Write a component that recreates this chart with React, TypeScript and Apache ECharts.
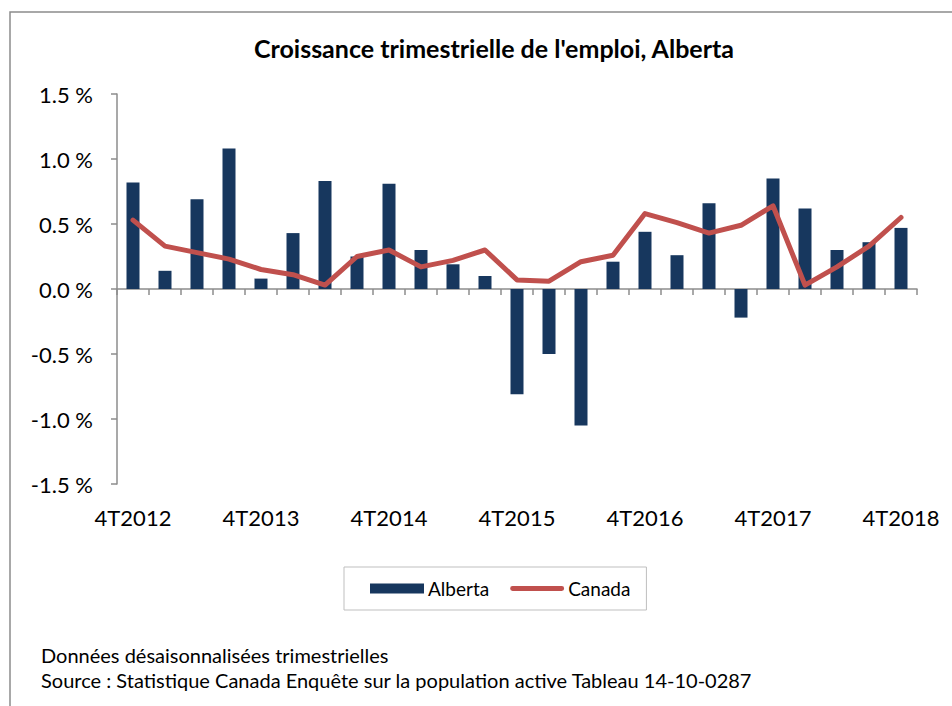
import React, { useEffect, useRef } from "react";
import * as echarts from "echarts";

const categories = [
  "4T2012", "1T2013", "2T2013", "3T2013",
  "4T2013", "1T2014", "2T2014", "3T2014",
  "4T2014", "1T2015", "2T2015", "3T2015",
  "4T2015", "1T2016", "2T2016", "3T2016",
  "4T2016", "1T2017", "2T2017", "3T2017",
  "4T2017", "1T2018", "2T2018", "3T2018",
  "4T2018",
];

const albertaValues = [
  0.82, 0.14, 0.69, 1.08,
  0.08, 0.43, 0.83, 0.25,
  0.81, 0.30, 0.19, 0.10,
  -0.81, -0.50, -1.05, 0.21,
  0.44, 0.26, 0.66, -0.22,
  0.85, 0.62, 0.30, 0.36,
  0.47,
];

const canadaValues = [
  0.53, 0.33, 0.28, 0.23,
  0.15, 0.11, 0.03, 0.25,
  0.30, 0.17, 0.22, 0.30,
  0.07, 0.06, 0.21, 0.26,
  0.58, 0.51, 0.43, 0.49,
  0.64, 0.03, 0.17, 0.33,
  0.55,
];

const titleText = "Croissance trimestrielle de l'emploi, Alberta";
const noteLines = [
  "Données désaisonnalisées trimestrielles",
  "Source : Statistique Canada Enquête sur la population active Tableau 14-10-0287",
];

const FONT = "Lato";
const AXIS_GRAY = "#8c8c8c";
const LINE_ICON = "path://M2.5,0 H53.5 A2.5,2.5 0 0 1 53.5,5 H2.5 A2.5,2.5 0 0 1 2.5,0 Z";

export default function App() {
  const ref = useRef<HTMLDivElement>(null);

  useEffect(() => {
    if (!ref.current) return;
    const chart = echarts.init(ref.current, undefined, { renderer: "svg" });
    chart.setOption({
      animation: false,
      backgroundColor: "#ffffff",
      title: {
        text: titleText,
        left: 489,
        textAlign: "center",
        top: 30,
        textStyle: { fontFamily: FONT, fontWeight: "bold", fontSize: 25, color: "#000" },
      },
      grid: { left: 117, right: 35, top: 94, bottom: 222, containLabel: false },
      legend: {
        left: 344,
        top: 567,
        padding: [12, 16, 12, 26],
        borderColor: "#bfbfbf",
        borderWidth: 1,
        itemWidth: 54,
        itemHeight: 10,
        itemGap: 21,
        itemStyle: { borderWidth: 0 },
        textStyle: { fontFamily: FONT, fontSize: 19, color: "#000", padding: [0, 0, 0, -1] },
        data: [
          { name: "Alberta", icon: "rect" },
          { name: "Canada", icon: LINE_ICON },
        ],
      },
      xAxis: [
        {
          type: "category",
          data: categories,
          axisLine: { onZero: true, lineStyle: { color: AXIS_GRAY, width: 1.5 } },
          axisTick: { show: true, interval: 0, length: 6, lineStyle: { color: AXIS_GRAY, width: 1.5 } },
          axisLabel: { show: false },
          splitLine: { show: false },
        },
        {
          type: "category",
          data: categories,
          position: "bottom",
          axisLine: { show: false, onZero: false },
          axisTick: { show: false },
          axisLabel: {
            show: true,
            interval: 3,
            margin: 22,
            fontFamily: FONT,
            fontSize: 22,
            color: "#000",
          },
          splitLine: { show: false },
        },
      ],
      yAxis: {
        type: "value",
        min: -1.5,
        max: 1.5,
        interval: 0.5,
        axisLine: { show: true, lineStyle: { color: AXIS_GRAY, width: 1.5 } },
        axisTick: { show: true, length: 6, lineStyle: { color: AXIS_GRAY, width: 1.5 } },
        splitLine: { show: false },
        axisLabel: {
          margin: 24,
          fontFamily: FONT,
          fontSize: 22,
          color: "#000",
          formatter: (v: number) => v.toFixed(1) + " %",
        },
      },
      series: [
        {
          name: "Alberta",
          type: "bar",
          xAxisIndex: 0,
          data: albertaValues,
          barWidth: 13,
          itemStyle: { color: "#17375E" },
        },
        {
          name: "Canada",
          type: "line",
          xAxisIndex: 0,
          data: canadaValues,
          symbol: "none",
          lineStyle: { color: "#C0504D", width: 5, cap: "round", join: "round" },
          itemStyle: { color: "#C0504D" },
        },
      ],
      graphic: [
        {
          type: "rect",
          shape: { x: 10, y: 12, width: 960, height: 720 },
          style: { fill: "none", stroke: "#8c8c8c", lineWidth: 1.5 },
          silent: true,
        },
        {
          type: "text",
          left: 41,
          top: 645,
          style: { text: noteLines[0], fontFamily: FONT, fontSize: 20, fill: "#000" },
        },
        {
          type: "text",
          left: 41,
          top: 670,
          style: { text: noteLines[1], fontFamily: FONT, fontSize: 20, fill: "#000" },
        },
      ],
    });
    return () => chart.dispose();
  }, []);

  return (
    <div
      ref={ref}
      style={{ position: "fixed", left: 0, top: 0, width: 952, height: 706, background: "#fff" }}
    />
  );
}
